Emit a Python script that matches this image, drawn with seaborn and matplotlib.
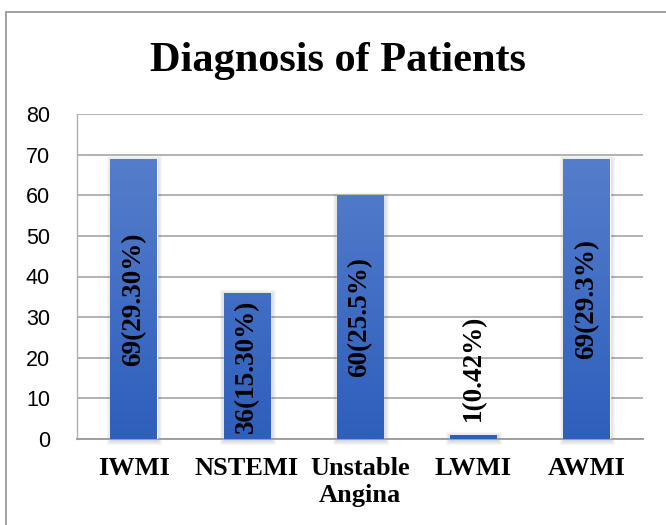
import numpy as np
import pandas as pd
import matplotlib
matplotlib.use("Agg")
import matplotlib.pyplot as plt
from matplotlib.lines import Line2D
from matplotlib.patches import Rectangle
import seaborn as sns

# Diagnosis counts and their share of all patients
categories = ["IWMI", "NSTEMI", "Unstable\nAngina", "LWMI", "AWMI"]
counts = [69, 36, 60, 1, 69]
bar_labels = ["69(29.30%)", "36(15.30%)", "60(25.5%)", "1(0.42%)", "69(29.3%)"]
y_ticks = [0, 10, 20, 30, 40, 50, 60, 70, 80]

df = pd.DataFrame({"diagnosis": categories, "patients": counts})

sns.set_theme(style="white")
serif = ["Liberation Serif", "DejaVu Serif"]
sans = ["Liberation Sans", "DejaVu Sans"]

fig = plt.figure(figsize=(6.66, 5.25), dpi=100)
ax = fig.add_axes([77 / 666, 1 - 439 / 525, 566 / 666, 325 / 525])

sns.barplot(data=df, x="diagnosis", y="patients", color="#4472c4",
            width=0.41, ax=ax, zorder=3)

ax.set_ylim(0, 80)
ax.set_xlim(-0.5, len(categories) - 0.5)

# size of one pixel in data units, for the soft shadow
px_x = len(categories) / 566
px_y = 80 / 325

# vertical blue gradient on each bar, with a soft drop shadow
top_rgb = np.array([0x5b, 0x82, 0xce]) / 255
bot_rgb = np.array([0x2e, 0x5f, 0xbc]) / 255
grad = np.linspace(0, 1, 256)[:, None, None]
grad_img = bot_rgb * (1 - grad) + top_rgb * grad  # row 0 = bottom
for p in ax.patches:
    x0, y0 = p.get_x(), p.get_y()
    w, h = p.get_width(), p.get_height()
    for k in range(1, 6):
        ax.add_patch(Rectangle((x0 - (k - 1.5) * px_x, y0 - (k + 0.5) * px_y),
                               w + (2 * k - 1) * px_x,
                               h + (2 * k - 2) * px_y,
                               facecolor="#404040", edgecolor="none",
                               alpha=0.045, zorder=2.5, clip_on=False))
    im = ax.imshow(grad_img, extent=[x0, x0 + w, y0, y0 + 80],
                   origin="lower", aspect="auto", zorder=4,
                   interpolation="bilinear")
    im.set_clip_path(p)

ax.set_ylim(0, 80)
ax.set_xlim(-0.5, len(categories) - 0.5)

# value labels, rotated inside the bars (above the tiny LWMI bar)
for i, (v, lab) in enumerate(zip(counts, bar_labels)):
    if v < 10:
        ax.text(i, v + 3.5, lab, rotation=90, ha="center", va="bottom",
                fontsize=19.5, fontweight="bold", family=serif, color="black",
                zorder=6)
    else:
        ax.text(i, v / 2, lab, rotation=90, ha="center", va="center",
                fontsize=19.5, fontweight="bold", family=serif, color="black",
                zorder=6)

ax.set_yticks(y_ticks)
ax.set_yticklabels([str(t) for t in y_ticks], family=sans, fontsize=15.5,
                   color="black")
ax.set_xticks(range(len(categories)))
ax.set_xticklabels(categories, family=serif, fontsize=19, fontweight="bold",
                   color="black", linespacing=1.2)
ax.tick_params(axis="y", length=0, pad=19.5)
ax.tick_params(axis="x", length=0, pad=13)
ax.set_xlabel("")
ax.set_ylabel("")

ax.yaxis.grid(True, color="#a6a6a6", linewidth=1.2, zorder=0)
ax.set_axisbelow(True)
for side in ["top", "right"]:
    ax.spines[side].set_visible(False)
ax.spines["left"].set_color("#b0b0b0")
ax.spines["left"].set_linewidth(1.0)
ax.spines["bottom"].set_color("#9a9a9a")
ax.spines["bottom"].set_linewidth(1.3)

fig.text(338 / 666, 1 - 61 / 525, "Diagnosis of Patients", ha="center",
         va="center", fontsize=30.5, fontweight="bold", family=serif,
         color="black")

# chart frame
fx, fy = 6 / 666, 1 - 12 / 525
fig.add_artist(Line2D([fx, 1.0], [fy, fy], transform=fig.transFigure,
                      color="#a0a0a0", linewidth=1.4))
fig.add_artist(Line2D([fx, fx], [0, fy], transform=fig.transFigure,
                      color="#a0a0a0", linewidth=1.4))

fig.savefig("out.png", dpi=100, facecolor="white")
